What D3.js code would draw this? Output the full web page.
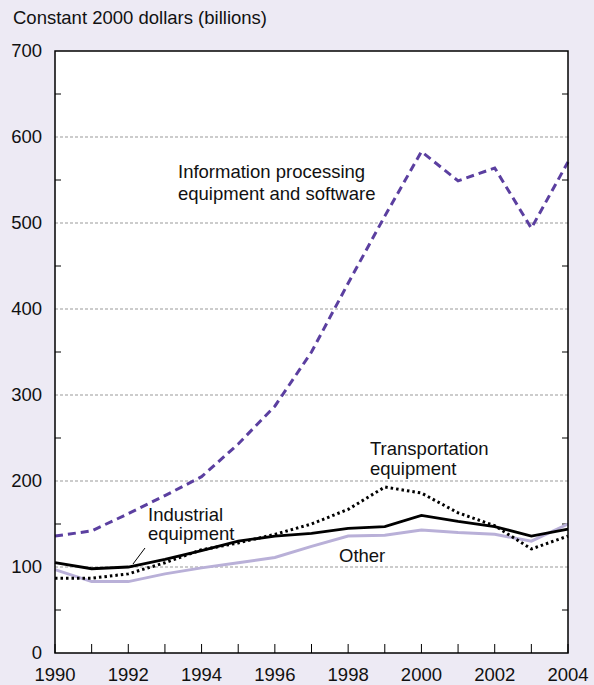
<!DOCTYPE html>
<html><head><meta charset="utf-8">
<script src="https://cdn.jsdelivr.net/npm/d3@7"></script>
<style>
html,body{margin:0;padding:0;background:#edeaf4;}
text{font-family:"Liberation Sans",Arial,Helvetica,sans-serif;fill:#111;}
</style></head>
<body>
<svg id="chart" width="594" height="685"></svg>
<script>
const years = [1990,1991,1992,1993,1994,1995,1996,1997,1998,1999,2000,2001,2002,2003,2004];
const infoProcessing = [136,142,162,183,205,243,287,350,430,508,583,549,564,494,571];
const transportation = [87,87,92,105,120,128,138,150,167,193,186,163,148,121,136];
const industrial = [105,98,100,109,119,130,136,139,145,147,160,153,147,136,144];
const other = [97,83,83,92,99,105,111,124,136,137,143,140,138,130,150];
const yTicks = [0,100,200,300,400,500,600,700];
const yMinorTicks = [50,150,250,350,450,550,650];
const xTickLabels = [1990,1992,1994,1996,1998,2000,2002,2004];

const svg = d3.select("#chart");
const L=55, R=568, T=51, B=653;
const FS = 18.5;
const x = d3.scaleLinear().domain([1990,2004]).range([L,R]);
const y = d3.scaleLinear().domain([0,700]).range([B,T]);

svg.append("rect").attr("x",0).attr("y",0).attr("width",594).attr("height",685).attr("fill","#edeaf4");
svg.append("rect").attr("x",L).attr("y",T).attr("width",R-L).attr("height",B-T).attr("fill","#fff");

// gridlines
svg.append("g").selectAll("line").data(yTicks.filter(d=>d>0&&d<700)).join("line")
  .attr("x1",L).attr("x2",R).attr("y1",d=>y(d)).attr("y2",d=>y(d))
  .attr("stroke","#999").attr("stroke-width",1).attr("stroke-dasharray","3,2");

// minor y ticks left & right
svg.append("g").selectAll("line").data(yMinorTicks).join("line")
  .attr("x1",L).attr("x2",L+6).attr("y1",d=>y(d)).attr("y2",d=>y(d)).attr("stroke","#000").attr("stroke-width",1);
svg.append("g").selectAll("line").data(yMinorTicks).join("line")
  .attr("x1",R-6).attr("x2",R).attr("y1",d=>y(d)).attr("y2",d=>y(d)).attr("stroke","#000").attr("stroke-width",1);

// x ticks
svg.append("g").selectAll("line").data(years).join("line")
  .attr("x1",d=>x(d)).attr("x2",d=>x(d)).attr("y1",B).attr("y2",B-9).attr("stroke","#000").attr("stroke-width",1);

// lines
const line = (vals)=>d3.line().x((d,i)=>x(years[i])).y(d=>y(d))(vals);
svg.append("path").attr("d",line(other)).attr("fill","none").attr("stroke","#b9b0d8").attr("stroke-width",3);
svg.append("path").attr("d",line(transportation)).attr("fill","none").attr("stroke","#000").attr("stroke-width",3).attr("stroke-dasharray","2.5,3");
svg.append("path").attr("d",line(industrial)).attr("fill","none").attr("stroke","#000").attr("stroke-width",2.8);
svg.append("path").attr("d",line(infoProcessing)).attr("fill","none").attr("stroke","#5b3fa0").attr("stroke-width",3).attr("stroke-dasharray","8,5");

// frame
svg.append("rect").attr("x",L).attr("y",T).attr("width",R-L).attr("height",B-T).attr("fill","none").attr("stroke","#000").attr("stroke-width",1.5);

// y labels
svg.append("g").selectAll("text").data(yTicks).join("text")
  .attr("x",42).attr("y",d=>y(d)).attr("dy","0.35em").attr("text-anchor","end").attr("font-size",FS).text(d=>d);
// x labels
svg.append("g").selectAll("text").data(xTickLabels).join("text")
  .attr("x",d=>x(d)).attr("y",681).attr("text-anchor","middle").attr("font-size",FS).text(d=>d);

// title
svg.append("text").attr("x",13).attr("y",24).attr("font-size",FS).text("Constant 2000 dollars (billions)");

// annotations
const ann = (xx,yy,t)=>svg.append("text").attr("x",xx).attr("y",yy).attr("font-size",FS).text(t);
ann(178,178,"Information processing");
ann(178,200,"equipment and software");
ann(370,455,"Transportation");
ann(370,475,"equipment");
ann(148,521,"Industrial");
ann(148,540,"equipment");
ann(339,562,"Other");
svg.append("line").attr("x1",145).attr("y1",548).attr("x2",133).attr("y2",564).attr("stroke","#000").attr("stroke-width",1);
</script>
</body></html>
